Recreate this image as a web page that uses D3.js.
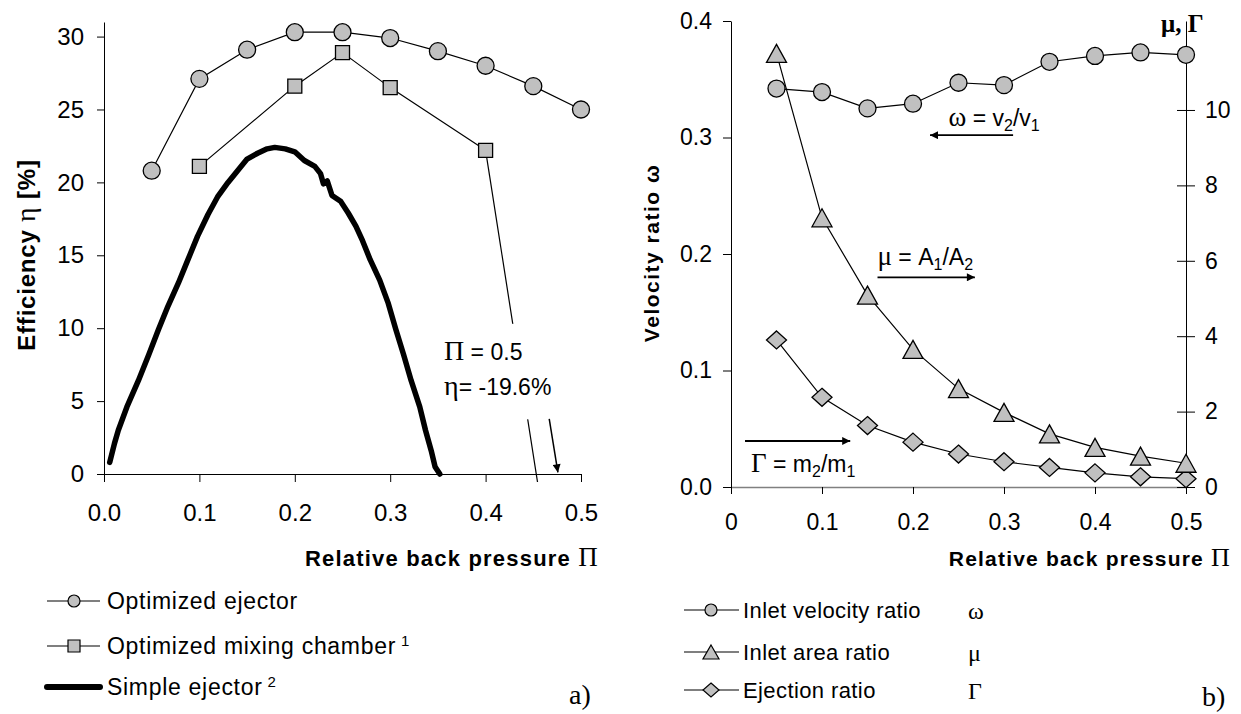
<!DOCTYPE html>
<html>
<head>
<meta charset="utf-8">
<script src="https://cdn.jsdelivr.net/npm/d3@7"></script>
<style>
body { margin: 0; background: #fff; }
text { font-family: "Liberation Sans", Arial, sans-serif; fill: #000; }
.serif { font-family: "Liberation Serif", "Times New Roman", serif; }
</style>
</head>
<body>
<div id="chart"></div>
<script>
// ---- data: chart a) efficiency vs. relative back pressure
var piPts = [0.05, 0.10, 0.15, 0.20, 0.25, 0.30, 0.35, 0.40, 0.45, 0.50];
var etaOptEjector = [20.8, 27.1, 29.1, 30.3, 30.3, 29.9, 29.0, 28.0, 26.6, 25.0];
var piMixing = [0.10, 0.20, 0.25, 0.30, 0.40];
var etaMixing = [21.1, 26.6, 28.9, 26.5, 22.2];
var piSimple = [0.006, 0.011, 0.015, 0.024, 0.036, 0.047, 0.057, 0.067, 0.078, 0.088, 0.098,
  0.109, 0.119, 0.130, 0.140, 0.150, 0.161, 0.171, 0.179, 0.190, 0.200, 0.210, 0.221, 0.227,
  0.230, 0.234, 0.239, 0.248, 0.256, 0.264, 0.271, 0.279, 0.289, 0.298, 0.306, 0.314, 0.322,
  0.331, 0.337, 0.343, 0.347, 0.352];
var etaSimple = [0.8, 2.1, 3.0, 4.6, 6.4, 8.2, 9.9, 11.5, 13.1, 14.7, 16.3,
  17.8, 19.0, 20.0, 20.8, 21.6, 22.0, 22.3, 22.4, 22.3, 22.1, 21.5, 21.1, 20.6,
  19.9, 20.1, 19.1, 18.7, 17.9, 17.0, 16.0, 14.7, 13.3, 11.7, 9.9, 8.2, 6.4,
  4.6, 3.0, 1.6, 0.5, 0.0];
var etaTicks = [0, 5, 10, 15, 20, 25, 30];
var piTicks = [0, 0.1, 0.2, 0.3, 0.4, 0.5];
var mixOffChart = [0.5, -19.6]; // last point of the mixing chamber curve, below the axis

// ---- data: chart b) ratios vs. relative back pressure
var omega = [0.342, 0.339, 0.325, 0.329, 0.347, 0.345, 0.365, 0.370, 0.373, 0.371];
var mu = [11.5, 7.14, 5.09, 3.65, 2.61, 1.98, 1.41, 1.05, 0.82, 0.63];
var gammaR = [3.90, 2.38, 1.63, 1.19, 0.875, 0.67, 0.52, 0.375, 0.27, 0.22];
var omegaTicks = [0, 0.1, 0.2, 0.3, 0.4];
var rightTicks = [0, 2, 4, 6, 8, 10];

var legendA = ["Optimized ejector", "Optimized mixing chamber", "Simple ejector"];
var legendB = ["Inlet velocity ratio", "Inlet area ratio", "Ejection ratio"];
var legendBSym = ["\u03c9", "\u03bc", "\u0393"];

var grey = "#c0c0c0";

var svg = d3.select("#chart").append("svg")
  .attr("width", 1241)
  .attr("height", 714);

// arrow head
svg.append("defs").append("marker")
  .attr("id", "arrow")
  .attr("viewBox", "0 0 10 10")
  .attr("refX", 10).attr("refY", 5)
  .attr("markerWidth", 11).attr("markerHeight", 8)
  .attr("markerUnits", "userSpaceOnUse")
  .attr("orient", "auto")
  .append("path").attr("d", "M0,0L10,5L0,10z").attr("fill", "#000");

var squarePath = "M-7,-7H7V7H-7Z";
var trianglePath = "M0,-9L10,9H-10Z";
var diamondPath = "M0,-9L10,0L0,9L-10,0Z";

function styleAxis(g, size) {
  g.selectAll("text").style("font-size", size + "px").attr("fill", "#000");
  g.selectAll("line").attr("stroke", "#000");
  g.select(".domain").attr("stroke", "#000");
}

// ================= chart a) =================
var xA = d3.scaleLinear().domain([0, 0.5]).range([104, 581]);
var yA = d3.scaleLinear().domain([0, 31]).range([474, 22]);

svg.append("g")
  .attr("transform", "translate(0," + yA(0) + ")")
  .call(d3.axisBottom(xA).tickValues(piTicks).tickSize(8).tickSizeOuter(0)
    .tickPadding(22).tickFormat(d3.format(".1f")))
  .call(styleAxis, 24);

svg.append("g")
  .attr("transform", "translate(" + xA(0) + ",0)")
  .call(d3.axisLeft(yA).tickValues(etaTicks).tickSize(7).tickSizeOuter(0).tickPadding(13))
  .call(styleAxis, 24);

// leader line of the mixing chamber curve to its off-chart point, clipped a little below the axis
svg.append("clipPath").attr("id", "clipA")
  .append("rect")
  .attr("x", xA(0)).attr("y", yA(31))
  .attr("width", xA(0.5) - xA(0)).attr("height", yA(-0.55) - yA(31));

var line = d3.line();
svg.append("path")
  .attr("clip-path", "url(#clipA)")
  .attr("d", line([[xA(piMixing[4]), yA(etaMixing[4])], [xA(mixOffChart[0]), yA(mixOffChart[1])]]))
  .attr("fill", "none").attr("stroke", "#000").attr("stroke-width", 1.2);

// text box of the annotation hides the leader line
svg.append("rect")
  .attr("x", xA(0.35)).attr("y", yA(10.3))
  .attr("width", xA(0.49) - xA(0.35)).attr("height", yA(3.75) - yA(10.3))
  .attr("fill", "#fff");

var ann1 = svg.append("text").attr("x", xA(0.3564)).attr("y", yA(7.82)).style("font-size", "23px");
ann1.append("tspan").attr("class", "serif").style("font-size", "28px").text("\u03a0");
ann1.append("tspan").text(" = 0.5");
var ann2 = svg.append("text").attr("x", xA(0.3564)).attr("y", yA(5.42)).style("font-size", "23px");
ann2.append("tspan").attr("class", "serif").style("font-size", "28px").text("\u03b7");
ann2.append("tspan").text("= -19.6%");

svg.append("line")
  .attr("x1", xA(0.4667)).attr("y1", yA(3.78))
  .attr("x2", xA(0.4758)).attr("y2", yA(0.11))
  .attr("stroke", "#000").attr("stroke-width", 1.5)
  .attr("marker-end", "url(#arrow)");

// simple ejector
svg.append("path")
  .attr("d", d3.line().x(function (d) { return xA(d); }).y(function (d, i) { return yA(etaSimple[i]); })(piSimple))
  .attr("fill", "none").attr("stroke", "#000").attr("stroke-width", 5.5)
  .attr("stroke-linejoin", "round").attr("stroke-linecap", "round");

// optimized mixing chamber
svg.append("path")
  .attr("d", d3.line().x(function (d) { return xA(d); }).y(function (d, i) { return yA(etaMixing[i]); })(piMixing))
  .attr("fill", "none").attr("stroke", "#000").attr("stroke-width", 1.2);
svg.selectAll(".sqA").data(piMixing).enter().append("path")
  .attr("class", "sqA")
  .attr("d", squarePath)
  .attr("transform", function (d, i) { return "translate(" + xA(d) + "," + yA(etaMixing[i]) + ")"; })
  .attr("fill", grey).attr("stroke", "#000").attr("stroke-width", 1.3);

// optimized ejector
svg.append("path")
  .attr("d", d3.line().x(function (d) { return xA(d); }).y(function (d, i) { return yA(etaOptEjector[i]); })(piPts))
  .attr("fill", "none").attr("stroke", "#000").attr("stroke-width", 1.2);
svg.selectAll(".cA").data(piPts).enter().append("circle")
  .attr("class", "cA")
  .attr("cx", function (d) { return xA(d); })
  .attr("cy", function (d, i) { return yA(etaOptEjector[i]); })
  .attr("r", 8.5)
  .attr("fill", grey).attr("stroke", "#000").attr("stroke-width", 1.3);

// axis titles
var tA = svg.append("text").attr("x", 599).attr("y", 566).attr("text-anchor", "end")
  .style("font-size", "22px").style("font-weight", "bold").style("letter-spacing", "1.2px");
tA.append("tspan").text("Relative back pressure ");
tA.append("tspan").attr("class", "serif").style("font-weight", "normal").style("font-size", "27px").text("\u03a0");

var yTitleA = svg.append("text").attr("transform", "translate(35,255) rotate(-90)")
  .attr("text-anchor", "middle").style("font-size", "24px").style("font-weight", "bold")
  .style("letter-spacing", "0.8px");
yTitleA.append("tspan").text("Efficiency ");
yTitleA.append("tspan").attr("class", "serif").style("font-weight", "normal").style("font-size", "28px").text("\u03b7");
yTitleA.append("tspan").text(" [%]");

// legend a)
var rowsA = [601, 646, 687];
var legA = svg.selectAll(".legA").data(legendA).enter().append("g")
  .attr("class", "legA")
  .attr("transform", function (d, i) { return "translate(0," + rowsA[i] + ")"; });
legA.append("line")
  .attr("x1", 47).attr("x2", 100)
  .attr("stroke", "#000")
  .attr("stroke-width", function (d, i) { return i === 2 ? 6 : 1.2; })
  .attr("stroke-linecap", function (d, i) { return i === 2 ? "round" : "butt"; });
legA.filter(function (d, i) { return i === 0; }).append("circle")
  .attr("cx", 74).attr("r", 6).attr("fill", grey).attr("stroke", "#000").attr("stroke-width", 1.2);
legA.filter(function (d, i) { return i === 1; }).append("path")
  .attr("d", "M-6,-6H6V6H-6Z").attr("transform", "translate(74,0)")
  .attr("fill", grey).attr("stroke", "#000").attr("stroke-width", 1.2);
var legAText = legA.append("text").attr("x", 107).attr("dy", "0.36em")
  .style("font-size", "23px").style("letter-spacing", "0.7px");
legAText.append("tspan").text(function (d) { return d; });
legAText.filter(function (d, i) { return i > 0; }).append("tspan")
  .attr("dy", "-0.55em").style("font-size", "15px")
  .text(function (d, i) { return " " + (i + 1); });

svg.append("text").attr("class", "serif").attr("x", 569).attr("y", 704)
  .style("font-size", "28px").text("a)");

// ================= chart b) =================
var xB = d3.scaleLinear().domain([0, 0.5]).range([731, 1186]);
var yB = d3.scaleLinear().domain([0, 0.4]).range([487, 21]);
var yR = d3.scaleLinear().domain([0, 12.36]).range([487, 21]);

svg.append("g")
  .attr("transform", "translate(0," + yB(0) + ")")
  .call(d3.axisBottom(xB).tickValues(piTicks).tickSize(7).tickSizeOuter(0).tickPadding(20)
    .tickFormat(function (d) { return d === 0 ? "0" : d3.format(".1f")(d); }))
  .call(styleAxis, 23)
  .select(".domain").attr("stroke", "#808080").attr("stroke-width", 1.5);

svg.append("g")
  .attr("transform", "translate(" + xB(0) + ",0)")
  .call(d3.axisLeft(yB).tickValues(omegaTicks).tickSize(8).tickSizeOuter(0).tickPadding(11)
    .tickFormat(d3.format(".1f")))
  .call(styleAxis, 23);

var rAxis = svg.append("g")
  .attr("transform", "translate(" + xB(0.5) + ",0)")
  .call(d3.axisRight(yR).tickValues(rightTicks).tickSize(9).tickSizeOuter(0).tickPadding(10))
  .call(styleAxis, 23);
rAxis.selectAll(".tick line").attr("x1", -9);

// arrows and formula labels
var arrowsB = [
  { x1: 0.310, x2: 0.2187, y: 0.302 },
  { x1: 0.161, x2: 0.268, y: 0.180 },
  { x1: 0.0154, x2: 0.131, y: 0.0395 }
];
svg.selectAll(".arrB").data(arrowsB).enter().append("line")
  .attr("class", "arrB")
  .attr("x1", function (d) { return xB(d.x1); })
  .attr("x2", function (d) { return xB(d.x2); })
  .attr("y1", function (d) { return yB(d.y); })
  .attr("y2", function (d) { return yB(d.y); })
  .attr("stroke", "#000").attr("stroke-width", 1.8)
  .attr("marker-end", "url(#arrow)");

function formula(x, y, sym, a, sa, b, sb) {
  var t = svg.append("text").attr("x", xB(x)).attr("y", yB(y)).style("font-size", "23px");
  t.append("tspan").attr("class", "serif").style("font-size", "27px").text(sym);
  t.append("tspan").text(a);
  t.append("tspan").attr("dy", 5).style("font-size", "16px").text(sa);
  t.append("tspan").attr("dy", -5).text(b);
  t.append("tspan").attr("dy", 5).style("font-size", "16px").text(sb);
}
formula(0.239, 0.310, "\u03c9", " =  v", "2", "/v", "1");
formula(0.161, 0.1906, "\u03bc", " = A", "1", "/A", "2");
formula(0.022, 0.0129, "\u0393", " = m", "2", "/m", "1");

// ejection ratio
svg.append("path")
  .attr("d", d3.line().x(function (d) { return xB(d); }).y(function (d, i) { return yR(gammaR[i]); })(piPts))
  .attr("fill", "none").attr("stroke", "#000").attr("stroke-width", 1.2);
svg.selectAll(".dB").data(piPts).enter().append("path")
  .attr("class", "dB").attr("d", diamondPath)
  .attr("transform", function (d, i) { return "translate(" + xB(d) + "," + yR(gammaR[i]) + ")"; })
  .attr("fill", grey).attr("stroke", "#000").attr("stroke-width", 1.3);

// inlet area ratio
svg.append("path")
  .attr("d", d3.line().x(function (d) { return xB(d); }).y(function (d, i) { return yR(mu[i]); })(piPts))
  .attr("fill", "none").attr("stroke", "#000").attr("stroke-width", 1.2);
svg.selectAll(".tB").data(piPts).enter().append("path")
  .attr("class", "tB").attr("d", trianglePath)
  .attr("transform", function (d, i) { return "translate(" + xB(d) + "," + yR(mu[i]) + ")"; })
  .attr("fill", grey).attr("stroke", "#000").attr("stroke-width", 1.3);

// inlet velocity ratio
svg.append("path")
  .attr("d", d3.line().x(function (d) { return xB(d); }).y(function (d, i) { return yB(omega[i]); })(piPts))
  .attr("fill", "none").attr("stroke", "#000").attr("stroke-width", 1.2);
svg.selectAll(".cB").data(piPts).enter().append("circle")
  .attr("class", "cB")
  .attr("cx", function (d) { return xB(d); })
  .attr("cy", function (d, i) { return yB(omega[i]); })
  .attr("r", 8.5)
  .attr("fill", grey).attr("stroke", "#000").attr("stroke-width", 1.3);

// axis titles b)
var tB = svg.append("text").attr("x", 1231).attr("y", 566).attr("text-anchor", "end")
  .style("font-size", "21px").style("font-weight", "bold").style("letter-spacing", "1.2px");
tB.append("tspan").text("Relative back pressure ");
tB.append("tspan").attr("class", "serif").style("font-weight", "normal").style("font-size", "26px").text("\u03a0");

svg.append("text").attr("transform", "translate(659,253) rotate(-90)")
  .attr("text-anchor", "middle").style("font-size", "21px").style("font-weight", "bold")
  .style("letter-spacing", "1.5px")
  .text("Velocity ratio  \u03c9");

svg.append("text").attr("class", "serif").attr("x", 1161).attr("y", 32)
  .style("font-size", "25px").style("font-weight", "bold").text("\u03bc, \u0393");

// legend b)
var rowsB = [610, 652, 690];
var legB = svg.selectAll(".legB").data(legendB).enter().append("g")
  .attr("class", "legB")
  .attr("transform", function (d, i) { return "translate(0," + rowsB[i] + ")"; });
legB.append("line").attr("x1", 684).attr("x2", 739).attr("stroke", "#000").attr("stroke-width", 1.2);
legB.append("path")
  .attr("d", function (d, i) { return i === 0 ? "M-6,0a6,6 0 1,0 12,0a6,6 0 1,0 -12,0" : i === 1 ? "M0,-7L8,7H-8Z" : "M0,-7L8,0L0,7L-8,0Z"; })
  .attr("transform", "translate(711,0)")
  .attr("fill", grey).attr("stroke", "#000").attr("stroke-width", 1.2);
legB.append("text").attr("x", 743).attr("dy", "0.36em").style("font-size", "22px")
  .style("letter-spacing", "0.4px")
  .text(function (d) { return d; });
legB.append("text").attr("class", "serif").attr("x", 968).attr("dy", "0.36em").style("font-size", "24px")
  .text(function (d, i) { return legendBSym[i]; });

svg.append("text").attr("class", "serif").attr("x", 1202).attr("y", 706)
  .style("font-size", "28px").text("b)");
</script>
</body>
</html>
